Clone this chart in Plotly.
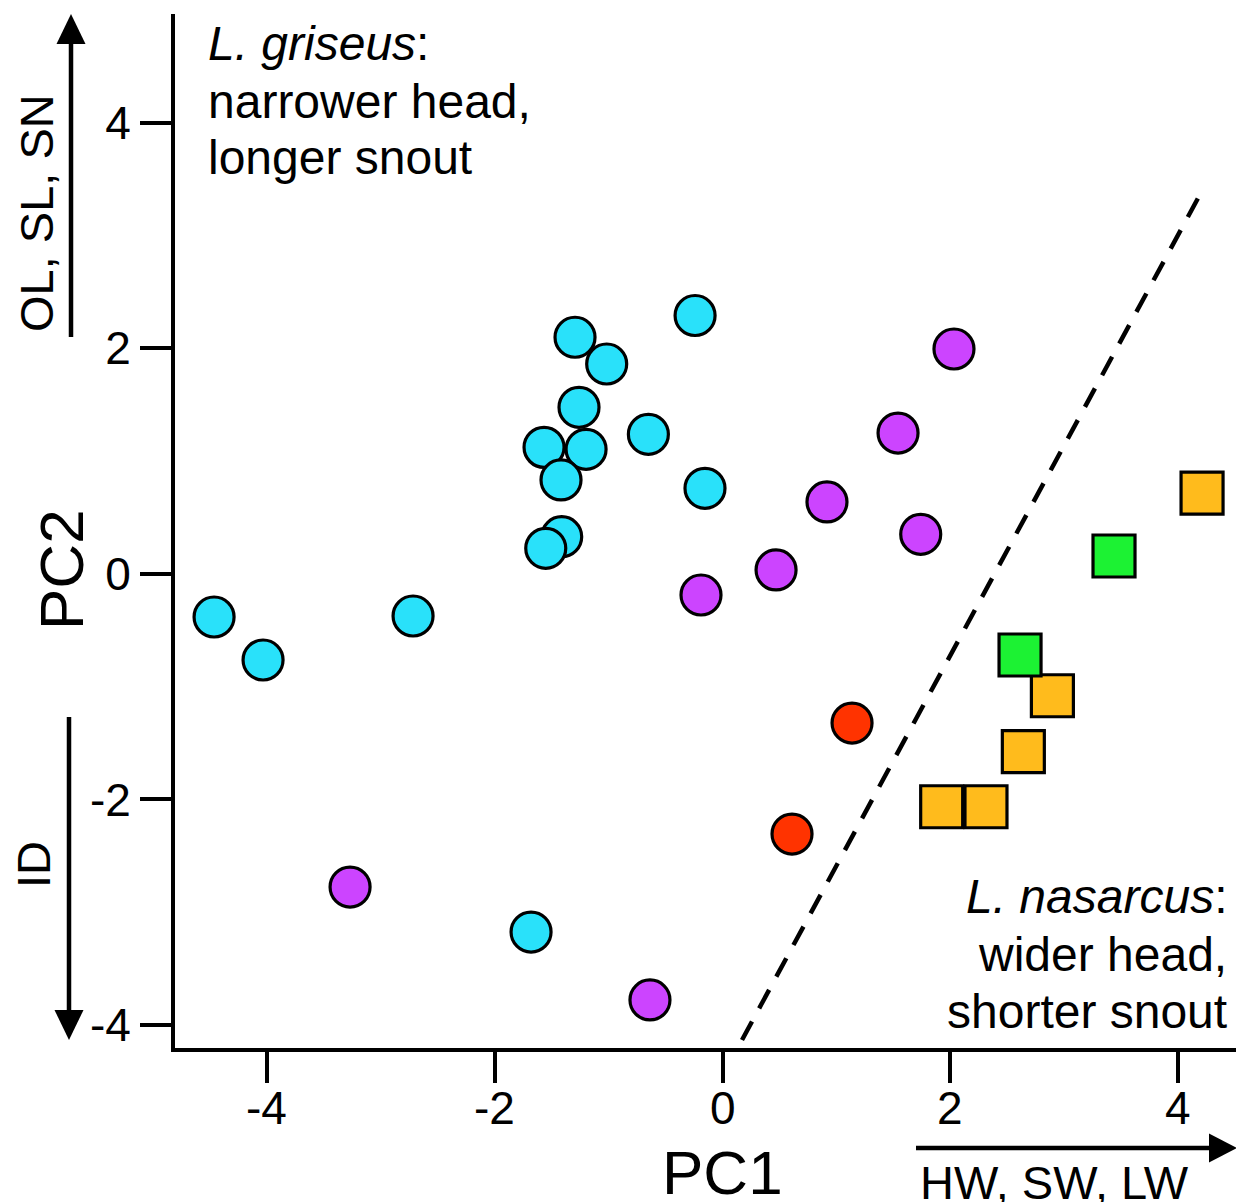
import plotly.graph_objects as go

# ---- data ----
cyan_x = [-4.464, -4.034, -2.717, -1.681, -0.241, -1.295, -1.017, -1.260, -0.651, -0.154, -1.567, -1.198, -1.418, -1.412, -1.552]
cyan_y = [-0.383, -0.764, -0.374, -3.176, 2.290, 2.097, 1.860, 1.476, 1.237, 0.758, 1.121, 1.104, 0.832, 0.329, 0.226]

purple_x = [-3.270, -0.637, -0.189, 0.470, 0.917, 1.541, 1.740, 2.032]
purple_y = [-2.777, -3.778, -0.188, 0.034, 0.637, 1.248, 0.350, 1.993]

red_x = [1.137, 0.610]
red_y = [-1.323, -2.307]

orange_x = [4.210, 2.896, 2.641, 1.924, 2.313]
orange_y = [0.716, -1.081, -1.577, -2.065, -2.065]

green_x = [3.437, 2.612]
green_y = [0.158, -0.720]

divider_x = [0.171, 4.175]
divider_y = [-4.133, 3.331]

x_ticks = [-4, -2, 0, 2, 4]
y_ticks = [-4, -2, 0, 2, 4]

FONT = "Liberation Sans, Arial, Helvetica, sans-serif"
W, H = 1236, 1202
L, R, T, B = 175, 0, 14, 154
PW, PH = W - L - R, H - T - B


def px(xp):
    return (xp - L) / PW


def py(yp):
    return (H - B - yp) / PH


fig = go.Figure()

fig.add_trace(go.Scatter(x=divider_x, y=divider_y, mode="lines",
                         line=dict(color="black", width=4.5, dash="21px,15px"),
                         hoverinfo="skip", showlegend=False))


def circles(xs, ys, color):
    fig.add_trace(go.Scatter(x=xs, y=ys, mode="markers", showlegend=False,
                             marker=dict(symbol="circle", size=40, color=color,
                                         line=dict(color="black", width=3.2))))


def squares(xs, ys, color):
    fig.add_trace(go.Scatter(x=xs, y=ys, mode="markers", showlegend=False,
                             marker=dict(symbol="square", size=42, color=color,
                                         line=dict(color="black", width=3.2))))


circles(cyan_x, cyan_y, "#29E1FA")
circles(purple_x, purple_y, "#CC44FF")
circles(red_x, red_y, "#FF3300")
squares(orange_x, orange_y, "#FFBB1C")
squares(green_x, green_y, "#1CF233")

fig.update_xaxes(range=[-4.807, 4.508], tickvals=x_ticks, showticklabels=False,
                 showline=True, linecolor="black", linewidth=4, ticks="outside",
                 ticklen=31, tickwidth=4, tickcolor="black", showgrid=False, zeroline=False)
fig.update_yaxes(range=[-4.204, 4.963], tickvals=y_ticks, ticktext=[str(v) for v in y_ticks],
                 showline=True, linecolor="black", linewidth=4, ticks="outside",
                 ticklen=31, tickwidth=4, tickcolor="black", showgrid=False, zeroline=False,
                 tickfont=dict(family=FONT, size=46, color="black"))

shapes = []
# up arrow (OL, SL, SN)
shapes.append(dict(type="line", xref="paper", yref="paper", x0=px(71), x1=px(71), y0=py(337), y1=py(40),
                   line=dict(color="black", width=4.5)))
shapes.append(dict(type="path", xref="paper", yref="paper", fillcolor="black", line=dict(width=0),
                   path=f"M {px(56.5)},{py(44)} L {px(85.5)},{py(44)} L {px(71)},{py(14)} Z"))
# down arrow (ID)
shapes.append(dict(type="line", xref="paper", yref="paper", x0=px(69), x1=px(69), y0=py(717), y1=py(1012),
                   line=dict(color="black", width=4.5)))
shapes.append(dict(type="path", xref="paper", yref="paper", fillcolor="black", line=dict(width=0),
                   path=f"M {px(54.5)},{py(1010)} L {px(83.5)},{py(1010)} L {px(69)},{py(1040)} Z"))
# right arrow (HW, SW, LW)
shapes.append(dict(type="line", xref="paper", yref="paper", x0=px(916), x1=px(1212), y0=py(1148), y1=py(1148),
                   line=dict(color="black", width=4.5)))
shapes.append(dict(type="path", xref="paper", yref="paper", fillcolor="black", line=dict(width=0),
                   path=f"M {px(1209)},{py(1133.5)} L {px(1209)},{py(1162.5)} L {px(1237)},{py(1148)} Z"))

ann = []


def text(s, x, y, size=47, xanchor="center", yanchor="middle", angle=0):
    ann.append(dict(text=s, x=px(x), y=py(y), xref="paper", yref="paper", showarrow=False,
                    xanchor=xanchor, yanchor=yanchor, textangle=angle,
                    font=dict(family=FONT, size=size, color="black")))


# x tick labels (placed on the data x positions)
for v in x_ticks:
    ann.append(dict(text=str(v), x=v, xref="x", y=py(1108), yref="paper", showarrow=False,
                    xanchor="center", yanchor="middle",
                    font=dict(family=FONT, size=46, color="black")))

# griseus block (left aligned)
text("<i>L. griseus</i>:", 206, 44, size=48, xanchor="left")
text("narrower head,", 206, 101, size=48, xanchor="left")
text("longer snout", 206, 157, size=48, xanchor="left")
# nasarcus block (right aligned)
text("<i>L. nasarcus</i>:", 1229, 896, size=48, xanchor="right")
text("wider head,", 1229, 954, size=48, xanchor="right")
text("shorter snout", 1229, 1011, size=48, xanchor="right")
# axis titles
text("PC1", 722, 1172, size=62)
text("PC2", 61, 570, size=62, angle=-90)
# loading labels
text("OL, SL, SN", 36, 213, angle=-90)
text("ID", 33, 865, angle=-90)
text("HW, SW, LW", 1054, 1182)

fig.update_layout(width=W, height=H, margin=dict(l=L, r=R, t=T, b=B, pad=0),
                  plot_bgcolor="white", paper_bgcolor="white",
                  shapes=shapes, annotations=ann, showlegend=False,
                  font=dict(family=FONT, color="black"))

fig.write_html("out.html", config={"displayModeBar": False},
               post_script="document.body.style.margin='0px';document.body.style.overflow='hidden';")
